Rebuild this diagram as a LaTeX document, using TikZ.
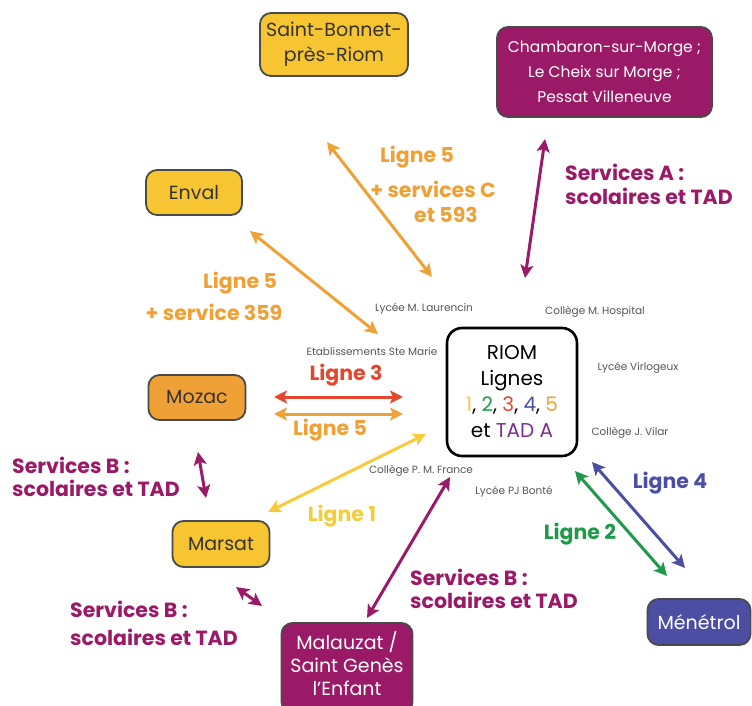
\documentclass[tikz,border=0pt]{standalone}
\usepackage{fontspec}
\setmainfont{Poppins}
\usetikzlibrary{arrows.meta}
\definecolor{cyel}{HTML}{F6C531}
\definecolor{cora}{HTML}{F0A136}
\definecolor{cpur}{HTML}{9A1A67}
\definecolor{cblu}{HTML}{4B4EA2}
\definecolor{cred}{HTML}{E4472E}
\definecolor{cgrn}{HTML}{1F9A4A}
\definecolor{cvio}{HTML}{7A2F8E}
\definecolor{cbord}{HTML}{4A4A4A}
\definecolor{cgray}{HTML}{555555}
\definecolor{clyel}{HTML}{F7CB3A}
\tikzset{
  town/.style={draw=cbord, line width=1.8pt, rounded corners=11pt, align=center, inner sep=0pt,
    font=\fontsize{19}{25}\selectfont, text=black!80},
  school/.style={font=\fontsize{10.5}{12}\selectfont, text=cgray, inner sep=0pt},
  lab/.style={font=\bfseries\fontsize{20.5}{24}\selectfont, inner sep=0pt, align=left},
  link/.style={line width=3pt, {Stealth[length=13pt,width=13pt,inset=3pt]}-{Stealth[length=13pt,width=13pt,inset=3pt]}}
}
\begin{document}
\begin{tikzpicture}[x=1pt,y=-1pt]
\useasboundingbox (0,0) rectangle (752,706);
% towns
\node[town, fill=cyel, minimum width=148pt, minimum height=63pt] (sb) at (334,44.5) {Saint-Bonnet-\\près-Riom};
\node[town, fill=cpur, text=white, minimum width=215pt, minimum height=90pt, font=\fontsize{15.5}{25}\selectfont] (ch) at (604.5,72) {Chambaron-sur-Morge ;\\Le Cheix sur Morge ;\\Pessat Villeneuve};
\node[town, fill=cyel, minimum width=96pt, minimum height=45pt] (en) at (194,192.5) {Enval};
\node[town, fill=cora, minimum width=97pt, minimum height=45pt] (mo) at (197,397.5) {Mozac};
\node[town, fill=cyel, minimum width=97pt, minimum height=46pt] (ma) at (221,544) {Marsat};
\node[town, fill=cpur, text=white, minimum width=131pt, minimum height=90pt, font=\fontsize{19}{23}\selectfont] (mz) at (347,668) {Malauzat /\\Saint Genès\\l'Enfant\rule[-8pt]{0pt}{0pt}};
\node[town, fill=cblu, text=white, minimum width=103pt, minimum height=46pt] (me) at (699,622) {Ménétrol};
\node[draw=black, line width=2.6pt, fill=white, rounded corners=15pt, minimum width=130pt, minimum height=128pt,
  align=center, inner sep=0pt, font=\fontsize{20}{26}\selectfont, text=black] (riom) at (512,392)
  {RIOM\\Lignes\\{\color{clyel}1}, {\color{cgrn}2}, {\color{cred}3}, {\color{cblu}4}, {\color{cora}5}\\et {\color{cvio}TAD A}};
% schools
\node[school] (s1) at (424,309) {Lycée M. Laurencin};
\node[school] (s2) at (595,312) {Collège M. Hospital};
\node[school] (s3) at (638,368) {Lycée Virlogeux};
\node[school] (s4) at (630,433) {Collège J. Vilar};
\node[school] (s5) at (372,352) {Etablissements Ste Marie};
\node[school] (s6) at (421,471) {Collège P. M. France};
\node[school] (s7) at (514,492) {Lycée PJ Bonté};
% arrow end points
\coordinate (a1) at (327,142); \coordinate (b1) at (432,277);
\coordinate (a2) at (545,139); \coordinate (b2) at (525,278);
\coordinate (a3) at (250,231); \coordinate (b3) at (378,334);
\coordinate (a4) at (274,397); \coordinate (b4) at (403,397);
\coordinate (a5) at (274,414); \coordinate (b5) at (403,414);
\coordinate (a6) at (426,434); \coordinate (b6) at (268,512);
\coordinate (a7) at (198,452); \coordinate (b7) at (206,498);
\coordinate (a8) at (236,587); \coordinate (b8) at (262,606);
\coordinate (a9) at (367,618); \coordinate (b9) at (450,477);
\coordinate (a10) at (575,471); \coordinate (b10) at (667,576);
\coordinate (a11) at (592,462); \coordinate (b11) at (685,568);
\draw[link, cora] (a1) -- (b1);
\draw[link, cpur] (a2) -- (b2);
\draw[link, cora] (a3) -- (b3);
\draw[link, cred] (a4) -- (b4);
\draw[link, cora] (a5) -- (b5);
\draw[link, clyel] (a6) -- (b6);
\draw[link, cpur] (a7) -- (b7);
\draw[link, cpur] (a8) -- (b8);
\draw[link, cpur] (a9) -- (b9);
\draw[link, cgrn] (a10) -- (b10);
\draw[link, cblu] (a11) -- (b11);
% labels
\node[lab, text=cora] (l1) at (417,157) {Ligne 5};
\node[lab, text=cora] (l2) at (433,189) {+ services C};
\node[lab, text=cora] (l3) at (446,215) {et 593};
\node[lab, text=cpur, anchor=west] (l4) at (565,172) {Services A :};
\node[lab, text=cpur, anchor=west] (l5) at (565,196) {scolaires et TAD};
\node[lab, text=cora] (l6) at (240,283) {Ligne 5};
\node[lab, text=cora] (l7) at (214,312) {+ service 359};
\node[lab, text=cred] (l8) at (346,375) {Ligne 3};
\node[lab, text=cora] (l9) at (330,430) {Ligne 5};
\node[lab, text=clyel] (l10) at (342,516) {Ligne 1};
\node[lab, text=cpur, anchor=west] (l11) at (12,465) {Services B :};
\node[lab, text=cpur, anchor=west] (l12) at (12,488) {scolaires et TAD};
\node[lab, text=cpur, anchor=west] (l13) at (70,609) {Services B :};
\node[lab, text=cpur, anchor=west] (l14) at (70,637) {scolaires et TAD};
\node[lab, text=cpur, anchor=west] (l15) at (410,577) {Services B :};
\node[lab, text=cpur, anchor=west] (l16) at (410,600) {scolaires et TAD};
\node[lab, text=cgrn] (l17) at (580,534) {Ligne 2};
\node[lab, text=cblu] (l18) at (670,483) {Ligne 4};
\end{tikzpicture}
\end{document}
